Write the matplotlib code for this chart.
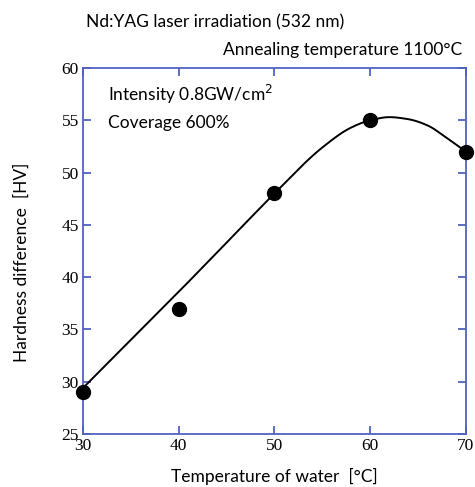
import numpy as np
import matplotlib
matplotlib.use('Agg')
import matplotlib.pyplot as plt

# measured points
water_temp = [30, 40, 50, 60, 70]
hardness = [29, 37, 48, 55, 52]

# fitted curve
curve_x = [30, 35, 40, 45, 50, 55, 58, 60, 62, 64, 66, 68, 70]
curve_y = [29.4, 34.0, 38.6, 43.3, 48.0, 52.4, 54.3, 55.0, 55.3, 55.1, 54.5, 53.3, 52.0]

x_ticks = [30, 40, 50, 60, 70]
y_ticks = [25, 30, 35, 40, 45, 50, 55, 60]


def pchip(xk, yk, n=400):
    # shape preserving cubic (Fritsch-Carlson), just to draw the curve smoothly
    xk = np.asarray(xk, float)
    yk = np.asarray(yk, float)
    h = np.diff(xk)
    d = np.diff(yk) / h
    m = np.zeros(len(xk))
    m[0], m[-1] = d[0], d[-1]
    for i in range(1, len(xk) - 1):
        if d[i - 1] * d[i] > 0:
            w1 = 2 * h[i] + h[i - 1]
            w2 = h[i] + 2 * h[i - 1]
            m[i] = (w1 + w2) / (w1 / d[i - 1] + w2 / d[i])
    xs = np.linspace(xk[0], xk[-1], n)
    i = np.clip(np.searchsorted(xk, xs, side='right') - 1, 0, len(xk) - 2)
    t = (xs - xk[i]) / h[i]
    h00 = 2 * t**3 - 3 * t**2 + 1
    h10 = t**3 - 2 * t**2 + t
    h01 = -2 * t**3 + 3 * t**2
    h11 = t**3 - t**2
    ys = h00 * yk[i] + h10 * h[i] * m[i] + h01 * yk[i + 1] + h11 * h[i] * m[i + 1]
    return xs, ys


frame_col = '#4f62c2'
sans = ['Lato', 'DejaVu Sans']
serif = ['Liberation Serif', 'DejaVu Serif']
fs = 12.5

fig = plt.figure(figsize=(4.75, 4.87), dpi=100)
ax = fig.add_axes([0.1747, 0.1088, 0.8063, 0.7516])

xs, ys = pchip(curve_x, curve_y)
ax.plot(xs, ys, color='black', lw=1.4, zorder=2)
ax.plot(water_temp, hardness, 'o', color='black', ms=10, zorder=3, clip_on=False)

ax.set_xlim(30, 70)
ax.set_ylim(25, 60)
ax.set_xticks(x_ticks)
ax.set_yticks(y_ticks)
for s in ax.spines.values():
    s.set_color(frame_col)
    s.set_linewidth(1.3)
ax.tick_params(direction='in', length=6, width=1.3, color=frame_col,
               top=True, right=True, labelsize=12.5, pad=3)
for lab in ax.get_xticklabels() + ax.get_yticklabels():
    lab.set_family(serif)

ax.set_xlabel('Temperature of water  [°C]', family=sans, fontsize=fs, labelpad=10)
ax.set_ylabel('Hardness difference  [HV]', family=sans, fontsize=fs)
ax.yaxis.set_label_coords(-0.138, 0.47)

ax.text(0.065, 0.929, 'Intensity 0.8GW/cm$^2$', transform=ax.transAxes,
        family=sans, fontsize=fs, va='center')
ax.text(0.065, 0.85, 'Coverage 600%', transform=ax.transAxes,
        family=sans, fontsize=fs, va='center')

fig.text(86 / 475, 1 - 22 / 487, 'Nd:YAG laser irradiation (532 nm)',
         family=sans, fontsize=fs, va='center')
fig.text(462 / 475, 1 - 50 / 487, 'Annealing temperature 1100°C',
         family=sans, fontsize=fs, va='center', ha='right')

fig.savefig('out.png', dpi=100)
